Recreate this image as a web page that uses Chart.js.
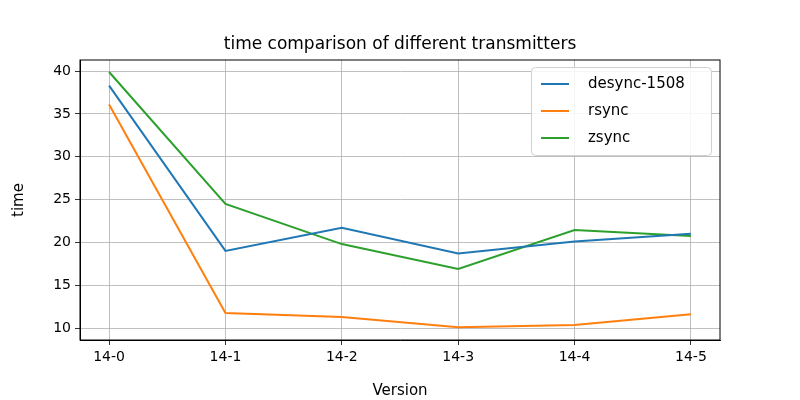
<!DOCTYPE html>
<html><head><script src="https://cdn.jsdelivr.net/npm/chart.js"></script>
<style>body{margin:0;background:#fff}#w{width:800px;height:400px}</style></head>
<body><div id="w"><canvas id="c"></canvas></div>
<script>
const categories=["14-0","14-1","14-2","14-3","14-4","14-5"];
const desync=[38.3,19.0,21.7,18.7,20.1,21.0];
const rsync=[36.1,11.75,11.3,10.1,10.35,11.6];
const zsync=[39.9,24.5,19.8,16.9,21.45,20.75];
const yTicks=[10,15,20,25,30,35,40];
const titleText='time comparison of different transmitters';
const F="'DejaVu Sans'";
const mk=(l,d,c)=>({label:l,data:d.map((v,i)=>({x:i,y:v})),borderColor:c,backgroundColor:c,borderWidth:2,pointRadius:0,tension:0});
const legendPlugin={id:'lg',afterDraw(ch){const x=ch.ctx,a=ch.chartArea;const bx=531,by=67,bw=180,bh=88;
x.save();x.fillStyle='rgba(255,255,255,0.85)';x.strokeStyle='#d0d0d0';x.lineWidth=1;
x.beginPath();x.roundRect(bx+.5,by+.5,bw,bh,4);x.fill();x.stroke();
x.font="15px "+F;x.textBaseline='middle';
ch.data.datasets.forEach((d,i)=>{const y=by+17+i*27;x.strokeStyle=d.borderColor;x.lineWidth=2;x.beginPath();x.moveTo(bx+10,y);x.lineTo(bx+38,y);x.stroke();x.fillStyle='#000';x.fillText(d.label,bx+57,y);});
x.font="17px "+F;x.textAlign='center';x.textBaseline='alphabetic';x.fillText(titleText,400,49);
x.restore();}};
new Chart(document.getElementById('c'),{type:'line',
data:{datasets:[mk('desync-1508',desync,'#1f77b4'),mk('rsync',rsync,'#ff7f0e'),mk('zsync',zsync,'#2ca02c')]},
options:{responsive:true,maintainAspectRatio:false,animation:false,
layout:{padding:{left:10,right:80,top:60,bottom:0}},
plugins:{legend:{display:false},tooltip:{enabled:false},title:{display:false}},
scales:{
x:{type:'linear',min:-0.25,max:5.25,afterBuildTicks(s){s.ticks=categories.map((_,i)=>({value:i}));},
ticks:{callback:v=>categories[v],color:'#000',font:{family:F,size:14},maxRotation:0,padding:4},
grid:{color:'#b0b0b0',lineWidth:0.8,tickLength:5,tickColor:'#000'},border:{color:'#000'},
title:{display:true,text:'Version',color:'#000',font:{family:F,size:15},padding:{top:0,bottom:0}},afterFit(s){s.height=60;}},
y:{min:8.6,max:41.3,afterBuildTicks(s){s.ticks=yTicks.map(v=>({value:v}));},
ticks:{color:'#000',font:{family:F,size:14},padding:4},
grid:{color:'#b0b0b0',lineWidth:0.8,tickLength:5,tickColor:'#000'},border:{color:'#000'},
title:{display:true,text:'time',color:'#000',font:{family:F,size:15},padding:{top:0,bottom:2}},afterFit(s){s.width=70;}}}},
plugins:[legendPlugin,{id:'frame',afterDatasetsDraw(ch){const x=ch.ctx,a=ch.chartArea;x.save();x.strokeStyle='#000';x.lineWidth=1;x.strokeRect(a.left,a.top,a.width,a.height);x.restore();}}]});
</script></body></html>
